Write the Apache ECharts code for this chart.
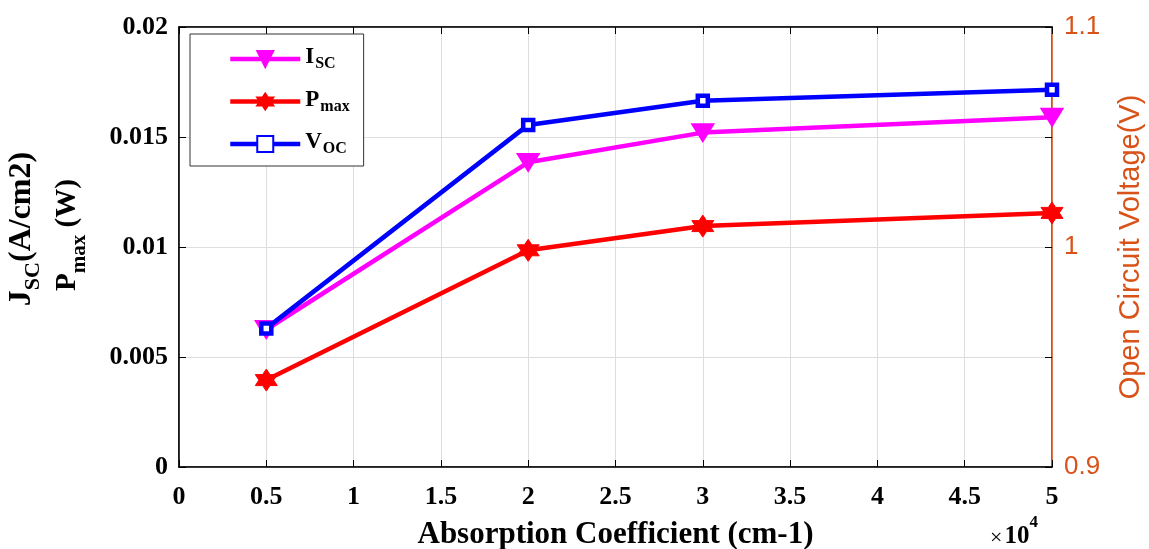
<!DOCTYPE html>
<html>
<head>
<meta charset="utf-8">
<style>
  html, body { margin: 0; padding: 0; background: #fff; }
  #chart { width: 1149px; height: 549px; }
</style>
<script src="https://cdn.jsdelivr.net/npm/echarts@6/dist/echarts.min.js"></script>
</head>
<body>
<div id="chart"></div>
<script>
// Absorption coefficient (cm-1)
const absorption = [5000, 20000, 30000, 50000];
// Short-circuit current density (A/cm2)
const iscValues = [0.00625, 0.01385, 0.01520, 0.01590];
// Maximum power (W)
const pmaxValues = [0.00395, 0.00985, 0.01095, 0.01155];
// Open-circuit voltage (V)
const vocValues = [0.9630, 1.0555, 1.0665, 1.0715];

const serif = '"Liberation Serif", "Times New Roman", serif';
const sans = '"Liberation Sans", Arial, Helvetica, sans-serif';
const orange = '#D95319';
const gridGray = '#dedede';

// six-pointed star marker
const hexagram = 'path://M0,-100 L28.9,-50 L86.6,-50 L57.7,0 L86.6,50 L28.9,50 L0,100 L-28.9,50 L-86.6,50 L-57.7,0 L-86.6,-50 L-28.9,-50 Z';

const pairs = (xs, ys) => xs.map((x, i) => [x, ys[i]]);

const chart = echarts.init(document.getElementById('chart'), null, { renderer: 'canvas' });

const tickLabel = { fontFamily: serif, fontWeight: 'bold', fontSize: 26, color: '#000' };

function labelRich(size, subSize, subDrop) {
  return {
    m: { fontFamily: serif, fontWeight: 'bold', fontSize: size, fill: '#000', verticalAlign: 'top' },
    s: { fontFamily: serif, fontWeight: 'bold', fontSize: subSize, fill: '#000', verticalAlign: 'bottom', padding: [subDrop, 0, 0, 0] }
  };
}

chart.setOption({
  animation: false,
  backgroundColor: '#fff',
  grid: {
    left: 179, right: 97, top: 27, bottom: 82,
    outerBoundsMode: 'none', containLabel: false,
    show: true, borderColor: '#000', borderWidth: 1.2, backgroundColor: 'transparent'
  },
  legend: {
    orient: 'vertical',
    left: 190, top: 34,
    padding: [6, 14, 9, 38],
    itemGap: 10.5,
    itemWidth: 70, itemHeight: 20,
    backgroundColor: '#fff',
    borderColor: '#333', borderWidth: 1,
    lineStyle: { width: 4.5 },
    data: ['Isc', 'Pmax', 'Voc'],
    formatter: function (name) {
      if (name === 'Isc') return '{m|I}{s|SC}';
      if (name === 'Pmax') return '{m|P}{s|max}';
      return '{m|V}{s|OC}';
    },
    textStyle: {
      rich: {
        m: { fontFamily: serif, fontWeight: 'bold', fontSize: 23, color: '#000', verticalAlign: 'top', lineHeight: 26 },
        s: { fontFamily: serif, fontWeight: 'bold', fontSize: 16, color: '#000', verticalAlign: 'bottom', padding: [16, 0, 0, 1], lineHeight: 18 }
      }
    }
  },
  xAxis: [
    {
      type: 'value', min: 0, max: 50000, interval: 5000,
      name: 'Absorption Coefficient (cm-1)', nameLocation: 'middle', nameGap: 52,
      nameTextStyle: { fontFamily: serif, fontWeight: 'bold', fontSize: 31, color: '#000' },
      axisLine: { show: true, onZero: false, lineStyle: { color: '#000', width: 1.5 } },
      axisTick: { show: true, inside: true, length: 7, lineStyle: { color: '#000', width: 1 } },
      axisLabel: Object.assign({ margin: 17, formatter: v => String(v / 10000) }, tickLabel),
      splitLine: { show: true, lineStyle: { color: gridGray, width: 1 } }
    },
    {
      type: 'value', min: 0, max: 50000, interval: 5000, position: 'top',
      axisLine: { show: true, onZero: false, lineStyle: { color: '#000', width: 1.5 } },
      axisTick: { show: true, inside: true, length: 7, lineStyle: { color: '#000' } },
      axisLabel: { show: false },
      splitLine: { show: false }
    }
  ],
  yAxis: [
    {
      type: 'value', min: 0, max: 0.02, interval: 0.005, position: 'left',
      axisLine: { show: true, onZero: false, lineStyle: { color: '#000', width: 1.5 } },
      axisTick: { show: true, inside: true, length: 7, lineStyle: { color: '#000' } },
      axisLabel: Object.assign({ margin: 11, formatter: v => String(+v.toFixed(3)) }, tickLabel),
      splitLine: { show: true, lineStyle: { color: gridGray, width: 1 } }
    },
    {
      type: 'value', min: 0.9, max: 1.1, interval: 0.1, position: 'right',
      name: 'Open Circuit Voltage(V)', nameLocation: 'middle', nameRotate: 90, nameGap: 64,
      nameTextStyle: { fontFamily: sans, fontSize: 29, color: orange },
      axisLine: { show: true, onZero: false, lineStyle: { color: orange, width: 1.5 } },
      axisTick: { show: true, inside: true, length: 7, lineStyle: { color: orange } },
      axisLabel: { margin: 12, fontFamily: sans, fontSize: 26, color: orange, formatter: v => String(+v.toFixed(1)) },
      splitLine: { show: false }
    },
    {
      // left-scale ticks repeated along the right edge
      type: 'value', min: 0, max: 0.02, interval: 0.005, position: 'right',
      axisLine: { show: false, onZero: false },
      axisTick: { show: true, inside: true, length: 7, lineStyle: { color: '#000' } },
      axisLabel: { show: false },
      splitLine: { show: false }
    }
  ],
  graphic: [
    {
      type: 'text', x: 25, y: 229, rotation: Math.PI / 2, z: 10,
      style: {
        text: '{m|J}{s|SC}{m|(A/cm2)}',
        align: 'center', verticalAlign: 'middle',
        rich: labelRich(32, 22, 17)
      }
    },
    {
      type: 'text', x: 72, y: 235, rotation: Math.PI / 2, z: 10,
      style: {
        text: '{m|P}{s|max}{m| (W)}',
        align: 'center', verticalAlign: 'middle',
        rich: labelRich(29, 21, 16)
      }
    },
    {
      type: 'text', left: 990, top: 514, z: 10,
      style: {
        text: '{x|\u00d7}{b|10}{e|4}',
        rich: {
          x: { fontFamily: serif, fontSize: 22, fill: '#000', verticalAlign: 'bottom', padding: [10, 2, 0, 0] },
          b: { fontFamily: serif, fontWeight: 'bold', fontSize: 25, fill: '#000', verticalAlign: 'bottom', padding: [10, 0, 0, 0] },
          e: { fontFamily: serif, fontWeight: 'bold', fontSize: 17, fill: '#000', verticalAlign: 'top' }
        }
      }
    }
  ],
  series: [
    {
      name: 'Isc', type: 'line', xAxisIndex: 0, yAxisIndex: 0,
      data: pairs(absorption, iscValues),
      symbol: 'triangle', symbolRotate: 180, symbolSize: [21, 17],
      lineStyle: { color: '#FF00FF', width: 4.5 },
      itemStyle: { color: '#FF00FF', borderColor: '#FF00FF', borderWidth: 2 },
      z: 3
    },
    {
      name: 'Pmax', type: 'line', xAxisIndex: 0, yAxisIndex: 0,
      data: pairs(absorption, pmaxValues),
      symbol: hexagram, symbolSize: 22,
      lineStyle: { color: '#FF0000', width: 4.5 },
      itemStyle: { color: '#FF0000', borderColor: '#FF0000', borderWidth: 1 },
      z: 3
    },
    {
      name: 'Voc', type: 'line', xAxisIndex: 0, yAxisIndex: 1,
      data: pairs(absorption, vocValues),
      symbol: 'rect', symbolSize: 10,
      lineStyle: { color: '#0000FF', width: 4.5 },
      itemStyle: { color: '#ffffff', borderColor: '#0000FF', borderWidth: 4.5 },
      z: 4
    }
  ]
});
</script>
</body>
</html>
